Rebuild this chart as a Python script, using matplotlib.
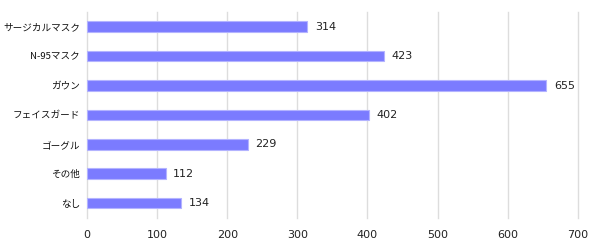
import matplotlib
matplotlib.use("Agg")
import matplotlib.pyplot as plt

plt.rcParams['font.family'] = ['Noto Sans CJK JP', 'DejaVu Sans']

# データ
categories = ['サージカルマスク', 'N-95マスク', 'ガウン', 'フェイスガード', 'ゴーグル', 'その他', 'なし']
values = [314, 423, 655, 402, 229, 112, 134]
xticks = [0, 100, 200, 300, 400, 500, 600, 700]

fig = plt.figure(figsize=(6.0, 2.44), dpi=100)
ax = fig.add_axes([0.145, 0.107, 0.818, 0.844])

pos = list(range(len(categories)))
ax.barh(pos, values, height=0.36, color='#7b7bff', edgecolor='#b3b3ff', linewidth=0.8, zorder=3)

for p, v in zip(pos, values):
    ax.text(v + 11, p, str(v), va='center', ha='left', fontsize=8,
            family='DejaVu Sans', color='#222222')

ax.set_yticks(pos)
ax.set_yticklabels(categories, fontsize=6.9, color='#111111')
ax.set_xticks(xticks)
ax.set_xticklabels([str(t) for t in xticks], fontsize=8, family='DejaVu Sans', color='#222222')
ax.set_xlim(0, 700)
ax.set_ylim(6.5, -0.5)

ax.grid(axis='x', color='#dddddd', linewidth=1, zorder=0)
for gl in ax.get_xgridlines():
    gl.set_clip_on(False)
ax.tick_params(axis='y', length=0, pad=5)
ax.tick_params(axis='x', length=0, pad=9)
for s in ax.spines.values():
    s.set_visible(False)

fig.savefig('out.png', dpi=100)
